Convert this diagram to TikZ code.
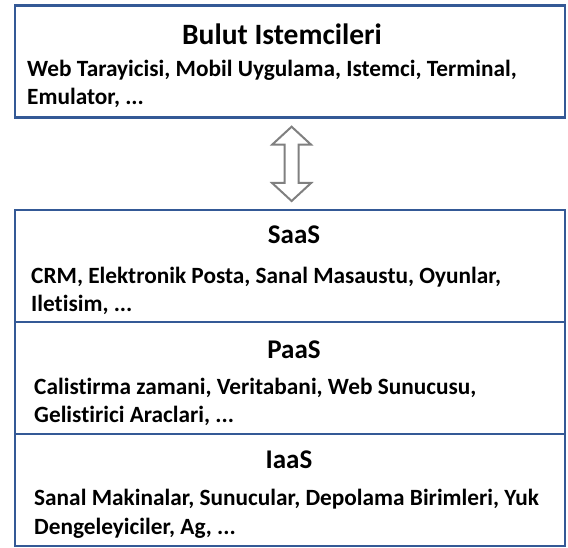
\documentclass[tikz,border=0pt]{standalone}
\usepackage{fontspec}
\setmainfont{Carlito}[Ligatures=NoCommon]
\usetikzlibrary{calc}
\definecolor{boxblue}{RGB}{52,89,150}
\definecolor{arrowgray}{RGB}{128,128,128}
\begin{document}
\begin{tikzpicture}[x=1pt,y=-1pt,
  layer/.style={draw=boxblue, line width=2.2pt, minimum width=550pt, minimum height=112pt, inner sep=0pt, anchor=north west},
  ttl/.style={font=\fontsize{27}{30}\selectfont\bfseries, inner sep=0pt},
  body/.style={font=\fontsize{23.3}{28}\selectfont\bfseries, inner sep=0pt, anchor=west},
  blockarrow/.style={draw=arrowgray, line width=2pt, fill=white, line join=miter}
]
\useasboundingbox (0,0) rectangle (568,548);
\node[layer] (client) at (14,4.5) {};
\node[layer] (saas) at (14,209) {};
\node[layer] (paas) at (14,321) {};
\node[layer] (iaas) at (14,433) {};

\node[ttl, font=\fontsize{29.5}{32}\selectfont\bfseries] (clientT) at (282,34) {Bulut Istemcileri};
\node[body] (clientA) at (27,70) {Web Tarayicisi, Mobil Uygulama, Istemci, Terminal,};
\node[body] (clientB) at (27,98) {Emulator, ...};

\node[ttl] (saasT) at (294,235) {SaaS};
\node[body] (saasA) at (31,277) {CRM, Elektronik Posta, Sanal Masaustu, Oyunlar,};
\node[body] (saasB) at (31,305) {Iletisim, ...};

\node[ttl] (paasT) at (294,350) {PaaS};
\node[body] (paasA) at (34,388) {Calistirma zamani, Veritabani, Web Sunucusu,};
\node[body] (paasB) at (34,416) {Gelistirici Araclari, ...};

\node[ttl] (iaasT) at (289,460) {IaaS};
\node[body] (iaasA) at (34,499) {Sanal Makinalar, Sunucular, Depolama Birimleri, Yuk};
\node[body] (iaasB) at (34,528) {Dengeleyiciler, Ag, ...};

\coordinate (at) at ($(client.south)+(1.5,8)$);
\coordinate (ab) at ($(saas.north)+(1.5,-8)$);
\draw[blockarrow] (at) -- ++(19.5,18) -- ++(-12.5,0) |- ($(ab)+(7,-18)$) -- ++(12.5,0) -- (ab)
  -- ++(-19.5,-18) -- ++(12.5,0) |- ($(at)+(-7,18)$) -- ++(-12.5,0) -- cycle;
\end{tikzpicture}
\end{document}
